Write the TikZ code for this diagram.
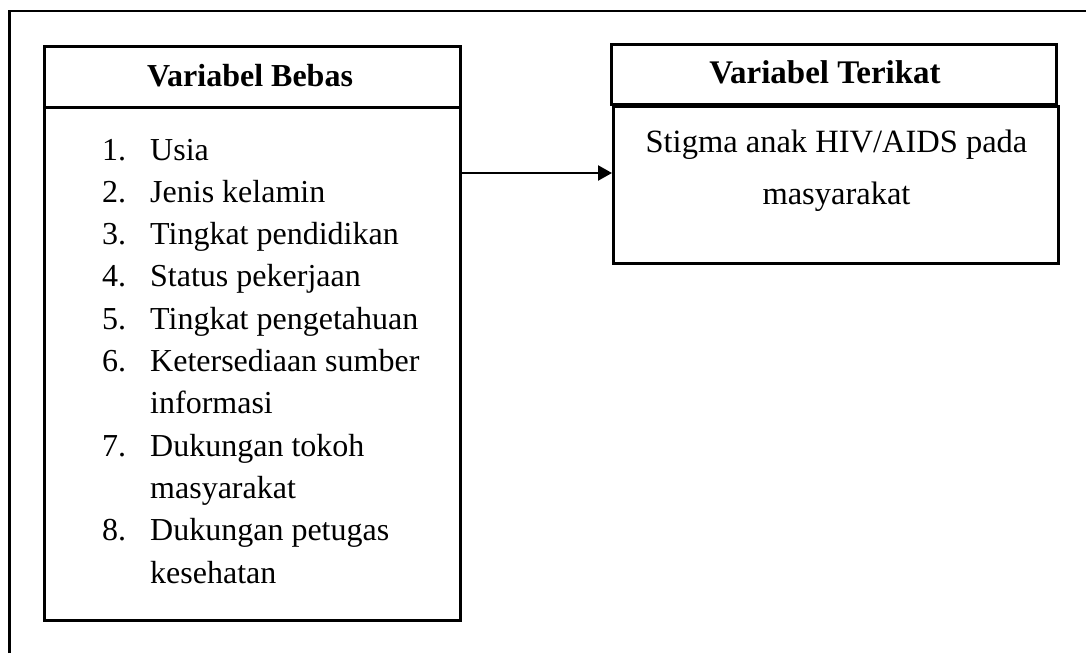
\documentclass[tikz,border=0pt]{standalone}
\usepackage{fontspec}
\setmainfont{Liberation Serif}
\usetikzlibrary{arrows.meta}
\begin{document}
\begin{tikzpicture}[x=1pt,y=-1pt,
  boxstyle/.style={draw, line width=2.6pt, inner sep=0pt, anchor=north west},
  txt/.style={inner sep=0pt, anchor=base west, font=\fontsize{32}{42.5}\selectfont},
  ctxt/.style={inner sep=0pt, anchor=base, font=\fontsize{32.5}{42.5}\selectfont},
  arr/.style={line width=2.4pt, -{Triangle[length=14pt,width=15pt]}}]
\useasboundingbox (0,0) rectangle (1086,653);
\fill[white] (0,0) rectangle (1086,653);
% outer frame (only top and left visible)
\draw[line width=2.6pt] (9.3,653) -- (9.3,11) -- (1086,11);
% left boxes
\node[boxstyle, minimum width=416pt, minimum height=61pt] (lhead) at (43,45) {};
\node[boxstyle, minimum width=416pt, minimum height=513pt] (lbody) at (43,106) {};
% right boxes
\node[boxstyle, minimum width=445pt, minimum height=60pt] (rhead) at (610,43) {};
\node[boxstyle, minimum width=445pt, minimum height=157pt] (rbody) at (612,105) {};
% headers
\node[ctxt, font=\fontsize{32}{42.5}\selectfont\bfseries] (lht) at (250,86.7) {Variabel Bebas};
\node[ctxt, font=\fontsize{33}{42.5}\selectfont\bfseries] (rht) at (825,83.3) {Variabel Terikat};
% list
\foreach \n/\t/\y [count=\i] in {
  1./Usia/160, 2./Jenis kelamin/202, 3./Tingkat pendidikan/244.5,
  4./Status pekerjaan/286.8, 5./Tingkat pengetahuan/329,
  6./Ketersediaan sumber/371.5, /informasi/413.8, 7./Dukungan tokoh/456.2,
  /masyarakat/498.5, 8./Dukungan petugas/540.8, /kesehatan/583.2} {
  \node[txt] (num\i) at (102,\y) {\n};
  \node[txt] (item\i) at (150,\y) {\t};
}
% right text
\node[ctxt] (r1) at (836.5,152.5) {Stigma anak HIV/AIDS pada};
\node[ctxt] (r2) at (836.5,204) {masyarakat};
% arrow
\coordinate (ay) at (0,173);
\draw[arr] (lbody.east |- ay) -- (rbody.west |- ay);
\end{tikzpicture}
\end{document}
